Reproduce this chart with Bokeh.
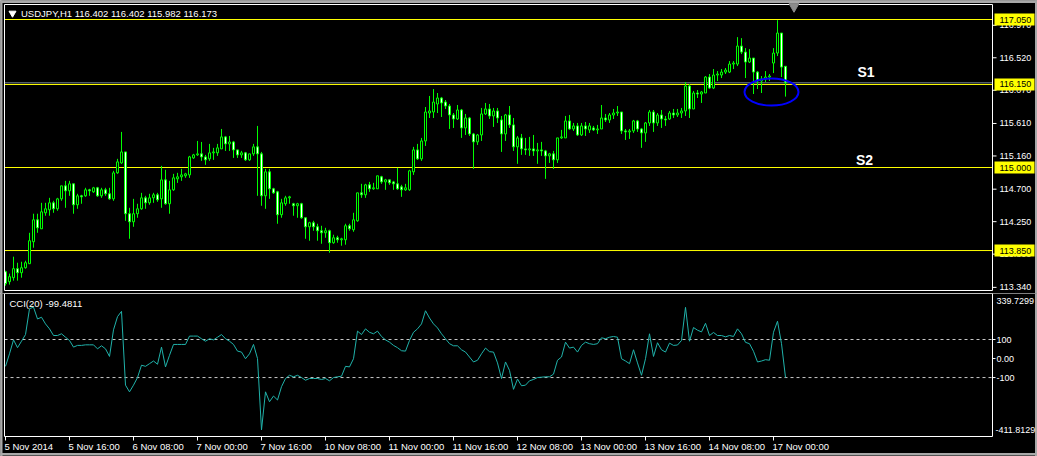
import re
from bokeh.plotting import figure
from bokeh.layouts import column
from bokeh.models import Range1d, ColumnDataSource
from bokeh.embed import file_html
from bokeh.resources import INLINE
from bokeh.core.properties import value

# ---------------- data (USDJPY H1) ----------------
open_ = [
    113.557, 113.419, 113.474, 113.599, 113.543, 113.612, 113.668, 113.972, 114.276, 114.151,
    114.373, 114.415, 114.511, 114.428, 114.566, 114.746, 114.677, 114.774, 114.484, 114.608,
    114.608, 114.691, 114.663, 114.719, 114.608, 114.691, 114.636, 114.566, 114.926, 115.064,
    115.216, 114.360, 114.248, 114.360, 114.428, 114.580, 114.511, 114.580, 114.622, 114.566,
    114.829, 114.498, 114.691, 114.843, 114.871, 114.885, 114.898, 115.133, 115.175, 115.189,
    115.147, 115.120, 115.203, 115.203, 115.258, 115.424, 115.327, 115.354, 115.244, 115.175,
    115.203, 115.106, 115.189, 115.286, 115.189, 114.608, 114.940, 114.705, 114.663, 114.346,
    114.498, 114.580, 114.498, 114.470, 114.498, 114.304, 114.179, 114.235, 114.179, 114.124,
    114.096, 114.124, 113.958, 114.027, 113.999, 113.999, 114.193, 114.138, 114.262, 114.649,
    114.622, 114.760, 114.705, 114.705, 114.871, 114.801, 114.829, 114.801, 114.774, 114.732,
    114.691, 114.691, 114.940, 115.244, 115.120, 115.368, 115.755, 115.769, 115.880, 115.963,
    115.907, 115.852, 115.728, 115.672, 115.797, 115.548, 115.686, 115.465, 115.355, 115.451,
    115.742, 115.811, 115.714, 115.783, 115.659, 115.465, 115.728, 115.590, 115.286, 115.410,
    115.258, 115.244, 115.258, 115.230, 115.244, 115.230, 115.161, 115.189, 115.106, 115.410,
    115.410, 115.645, 115.534, 115.576, 115.451, 115.576, 115.521, 115.548, 115.521, 115.534,
    115.686, 115.659, 115.728, 115.755, 115.769, 115.507, 115.493, 115.507, 115.645, 115.534,
    115.479, 115.617, 115.769, 115.617, 115.728, 115.672, 115.672, 115.755, 115.728, 115.755,
    115.783, 116.129, 115.811, 116.032, 116.018, 116.032, 116.253, 116.101, 116.281, 116.281,
    116.322, 116.322, 116.433, 116.433, 116.682, 116.599, 116.461, 116.516, 116.322, 116.198,
    116.226, 116.253, 116.447, 116.585, 116.862, 116.402]

high = [
    113.571, 113.530, 113.765, 113.681, 113.695, 113.709, 114.096, 114.360, 114.360, 114.511,
    114.511, 114.580, 114.539, 114.580, 114.746, 114.815, 114.815, 114.774, 114.636, 114.622,
    114.719, 114.705, 114.732, 114.732, 114.719, 114.719, 114.719, 114.954, 115.120, 115.493,
    115.216, 114.442, 114.566, 114.498, 114.649, 114.608, 114.636, 114.649, 114.649, 115.023,
    114.968, 114.815, 114.912, 114.926, 114.981, 114.926, 115.161, 115.189, 115.368, 115.354,
    115.175, 115.327, 115.272, 115.327, 115.534, 115.437, 115.437, 115.368, 115.244, 115.230,
    115.216, 115.189, 115.327, 115.576, 115.216, 114.981, 114.981, 114.719, 114.677, 114.566,
    114.608, 114.608, 114.511, 114.511, 114.511, 114.304, 114.248, 114.262, 114.221, 114.193,
    114.165, 114.138, 114.069, 114.055, 114.027, 114.221, 114.221, 114.373, 114.649, 114.774,
    114.774, 114.801, 114.788, 114.885, 114.885, 114.843, 114.829, 114.815, 114.995, 114.760,
    114.774, 114.968, 115.286, 115.327, 115.410, 115.838, 115.991, 116.087, 116.032, 115.977,
    115.935, 115.880, 115.755, 115.866, 115.811, 115.742, 115.700, 115.479, 115.465, 115.825,
    115.894, 115.880, 115.825, 115.825, 115.714, 115.742, 115.852, 115.686, 115.437, 115.465,
    115.410, 115.424, 115.451, 115.341, 115.355, 115.244, 115.203, 115.230, 115.410, 115.521,
    115.714, 115.728, 115.617, 115.617, 115.617, 115.631, 115.617, 115.576, 115.590, 115.866,
    115.742, 115.755, 115.811, 115.852, 115.769, 115.534, 115.534, 115.659, 115.659, 115.548,
    115.631, 115.797, 115.797, 115.755, 115.797, 115.714, 115.783, 115.811, 115.811, 115.825,
    116.184, 116.156, 116.060, 116.073, 116.060, 116.267, 116.295, 116.364, 116.336, 116.364,
    116.378, 116.474, 116.474, 116.806, 116.792, 116.654, 116.640, 116.516, 116.336, 116.267,
    116.336, 116.295, 116.654, 117.041, 116.862, 116.402]

low = [
    113.364, 113.378, 113.433, 113.433, 113.474, 113.599, 113.668, 113.889, 114.096, 114.151,
    114.332, 114.332, 114.373, 114.401, 114.539, 114.442, 114.608, 114.360, 114.428, 114.498,
    114.594, 114.608, 114.649, 114.594, 114.580, 114.608, 114.553, 114.539, 114.912, 115.051,
    114.262, 114.013, 114.179, 114.304, 114.415, 114.428, 114.484, 114.511, 114.525, 114.442,
    114.484, 114.360, 114.677, 114.787, 114.815, 114.857, 114.857, 115.120, 115.161, 115.092,
    115.037, 115.092, 115.106, 115.161, 115.258, 115.230, 115.230, 115.133, 115.133, 115.133,
    115.092, 115.092, 115.161, 114.608, 114.470, 114.428, 114.566, 114.636, 114.221, 114.304,
    114.470, 114.498, 114.332, 114.304, 114.290, 114.013, 113.986, 114.124, 113.986, 113.944,
    114.027, 113.820, 113.944, 113.958, 113.917, 113.931, 114.124, 114.110, 114.248, 114.580,
    114.580, 114.663, 114.691, 114.705, 114.774, 114.691, 114.760, 114.691, 114.691, 114.594,
    114.677, 114.677, 114.898, 115.106, 115.092, 115.299, 115.686, 115.686, 115.755, 115.700,
    115.811, 115.534, 115.548, 115.659, 115.410, 115.451, 115.437, 114.981, 115.313, 115.368,
    115.728, 115.672, 115.562, 115.617, 115.216, 115.368, 115.548, 115.230, 115.051, 115.175,
    115.175, 115.161, 115.161, 115.051, 115.161, 114.843, 115.064, 114.981, 115.064, 115.396,
    115.410, 115.521, 115.507, 115.437, 115.437, 115.437, 115.479, 115.507, 115.465, 115.534,
    115.631, 115.617, 115.672, 115.714, 115.465, 115.382, 115.396, 115.479, 115.493, 115.272,
    115.355, 115.576, 115.493, 115.576, 115.548, 115.576, 115.659, 115.686, 115.700, 115.686,
    115.714, 115.686, 115.811, 115.963, 115.894, 116.032, 116.087, 116.087, 116.198, 116.239,
    116.295, 116.308, 116.364, 116.405, 116.571, 116.239, 116.447, 116.018, 116.087, 116.032,
    116.184, 116.198, 116.308, 116.544, 116.253, 115.982]

close = [
    113.392, 113.488, 113.599, 113.543, 113.612, 113.681, 113.986, 114.276, 114.165, 114.387,
    114.428, 114.511, 114.428, 114.566, 114.746, 114.677, 114.774, 114.484, 114.608, 114.594,
    114.691, 114.677, 114.719, 114.608, 114.691, 114.636, 114.566, 114.926, 115.078, 115.216,
    114.360, 114.248, 114.360, 114.428, 114.580, 114.511, 114.580, 114.622, 114.553, 114.829,
    114.498, 114.691, 114.857, 114.871, 114.898, 114.912, 115.147, 115.175, 115.189, 115.147,
    115.106, 115.203, 115.216, 115.272, 115.424, 115.327, 115.354, 115.244, 115.175, 115.203,
    115.106, 115.189, 115.286, 115.189, 114.608, 114.940, 114.705, 114.649, 114.346, 114.511,
    114.580, 114.594, 114.470, 114.498, 114.304, 114.179, 114.235, 114.179, 114.124, 114.096,
    114.124, 113.958, 114.027, 113.999, 114.013, 114.193, 114.151, 114.276, 114.649, 114.622,
    114.760, 114.705, 114.719, 114.885, 114.801, 114.829, 114.788, 114.774, 114.705, 114.691,
    114.719, 114.954, 115.244, 115.120, 115.368, 115.769, 115.783, 115.907, 115.963, 115.894,
    115.852, 115.728, 115.672, 115.797, 115.548, 115.686, 115.465, 115.355, 115.451, 115.742,
    115.811, 115.714, 115.783, 115.686, 115.465, 115.728, 115.590, 115.286, 115.410, 115.258,
    115.244, 115.258, 115.230, 115.244, 115.230, 115.161, 115.189, 115.106, 115.410, 115.424,
    115.645, 115.534, 115.576, 115.451, 115.576, 115.534, 115.576, 115.521, 115.534, 115.686,
    115.659, 115.728, 115.755, 115.769, 115.507, 115.493, 115.507, 115.645, 115.534, 115.479,
    115.617, 115.769, 115.617, 115.728, 115.672, 115.659, 115.755, 115.728, 115.755, 115.783,
    116.129, 115.811, 116.032, 116.018, 116.046, 116.253, 116.101, 116.281, 116.295, 116.322,
    116.350, 116.433, 116.447, 116.682, 116.599, 116.461, 116.516, 116.322, 116.198, 116.226,
    116.253, 116.267, 116.585, 116.862, 116.391, 116.173]

cci = [
    -41, 25, 98, 57, 91, 126, 262, 270, 208, 217,
    182, 156, 121, 121, 130, 112, 95, 60, 69, 69,
    72, 72, 72, 51, 67, 51, 11, 151, 220, 248,
    -140, -175, -140, -100, -35, -41, -27, -13, -30, 60,
    -44, 17, 74, 74, 74, 74, 118, 118, 118, 104,
    91, 104, 98, 112, 126, 104, 91, 74, 39, 34,
    -1, 25, 74, 0, -375, -175, -227, -197, -218, -148,
    -105, -88, -96, -88, -100, -114, -105, -105, -105, -110,
    -105, -117, -100, -96, -93, -41, -44, -1, 144, 126,
    156, 138, 130, 144, 116, 98, 86, 69, 57, 41,
    39, 95, 138, 156, 182, 251, 213, 182, 161, 130,
    104, 78, 67, 67, 46, 34, 8, -18, -9, 25,
    55, 36, 34, -23, -105, -18, -62, -162, -108, -143,
    -140, -117, -110, -100, -98, -96, -96, -82, -9, 8,
    86, 55, 60, 34, 69, 86, 78, 74, 78, 109,
    104, 112, 116, 112, -1, -13, -27, 46, -23, -88,
    -1, 130, 11, 83, 46, 34, 81, 69, 71, 95,
    269, 91, 163, 149, 140, 185, 121, 137, 121, 121,
    114, 121, 116, 156, 130, 85, 78, 38, -18, -13,
    -6, -9, 138, 196, 78, -99.4811]

time_ticks = [0, 16, 32, 48, 64, 80, 96, 112, 128, 144, 160, 176, 192]
time_labels = ["5 Nov 2014", "5 Nov 16:00", "6 Nov 08:00", "7 Nov 00:00", "7 Nov 16:00",
               "10 Nov 08:00", "11 Nov 00:00", "11 Nov 16:00", "12 Nov 08:00", "13 Nov 00:00",
               "13 Nov 16:00", "14 Nov 08:00", "17 Nov 00:00"]
price_ticks = [116.970, 116.520, 116.070, 115.610, 115.160, 114.700, 114.250, 113.800, 113.340]
levels = [117.050, 116.150, 115.000, 113.850]
level_names = ["S1", "S2"]
bid = 116.173
cci_ticks = [100, 0, -100]
cci_tick_labels = ["100", "0.00", "-100"]
cci_levels = [100, -100]
cci_min, cci_max = -411.8129, 339.7299
header = "USDJPY,H1  116.402 116.402 115.982 116.173"
cci_header = "CCI(20) -99.4811"

# ---------------- geometry of the MT4 window (pixels -> scales) ----------------
W, HA, HB = 1037, 293, 163
PRICE_TOP, PX_PER_PRICE = 117.3132, 72.2      # price at page y=0, pixels per 1.0 JPY
CCI_TOP_PX, CCI_PX = 293.39, 143.0           # CCI pane spans its own min/max


def px_x(px):
    return (px - 5.0) / 4.0                   # bar i is centred at 5 + 4*i px


def px_a(py):
    return PRICE_TOP - py / PX_PER_PRICE


def px_b(py):
    return cci_max - (py - CCI_TOP_PX) * (cci_max - cci_min) / CCI_PX


FONT = "Liberation Sans"
LIME, YELLOW, EDGE = "#00FF00", "#FFFF00", "#A8A8A8"
PANE_L, PANE_R = px_x(4), px_x(992)


def txt(p, xs, ys, texts, size="9.5px", color="white", align="left", style="normal"):
    p.text(x=xs, y=ys, text=texts, text_font=value(FONT), text_font_size=value(size),
           text_color=color, text_align=align, text_baseline="middle", text_font_style=style)


def base_fig(height, yr):
    p = figure(width=W, height=height, x_range=Range1d(px_x(0), px_x(W)), y_range=yr,
               x_axis_location=None, y_axis_location=None,
               output_backend="svg", toolbar_location=None,
               min_border=0, background_fill_color="black", border_fill_color="black",
               outline_line_color=None)
    p.grid.visible = False
    return p


idx = list(range(len(close)))
bull = [i for i in idx if close[i] >= open_[i]]
bear = [i for i in idx if close[i] < open_[i]]

# ---------------- price pane ----------------
pa = base_fig(HA, Range1d(px_a(HA), px_a(0)))
# window edges
pa.quad(left=[px_x(0)], right=[px_x(W)], top=[px_a(0)], bottom=[px_a(2)], color=EDGE)
pa.quad(left=[px_x(0)], right=[px_x(1.5)], top=[px_a(0)], bottom=[px_a(HA)], color=EDGE)
pa.quad(left=[px_x(1035)], right=[px_x(W)], top=[px_a(0)], bottom=[px_a(HA)], color=EDGE)

# support lines and bid line
pa.segment(x0=[PANE_L] * len(levels), x1=[PANE_R] * len(levels), y0=levels, y1=levels,
           line_color=YELLOW, line_width=1)
pa.segment(x0=[PANE_L], x1=[PANE_R], y0=[bid], y1=[bid], line_color="#778899", line_width=1)

# candles
pa.segment(x0=idx, y0=low, x1=idx, y1=high, line_color=LIME, line_width=1)
bull_src = ColumnDataSource(dict(x=bull, top=[close[i] for i in bull], bottom=[open_[i] for i in bull]))
bear_src = ColumnDataSource(dict(x=bear, top=[open_[i] for i in bear], bottom=[close[i] for i in bear]))
pa.vbar(x="x", top="top", bottom="bottom", width=0.5, source=bull_src,
        fill_color="black", line_color=LIME, line_width=1)
pa.vbar(x="x", top="top", bottom="bottom", width=0.5, source=bear_src,
        fill_color="white", line_color=LIME, line_width=1)

# pane frame
pa.quad(left=[PANE_L], right=[PANE_R], top=[px_a(4)], bottom=[px_a(290)],
        fill_color=None, line_color="white", line_width=1)

# price scale (right)
n = len(price_ticks)
pa.segment(x0=[PANE_R] * n, x1=[px_x(996)] * n, y0=price_ticks, y1=price_ticks,
           line_color="white", line_width=1)
txt(pa, [px_x(999)] * n, price_ticks, [f"{t:.3f}" for t in price_ticks], size="9px")
m = len(levels)
pa.rect(x=[px_x(1014)] * m, y=levels, width=40, height=12, width_units="screen",
        height_units="screen", fill_color=YELLOW, line_color=None)
txt(pa, [px_x(999)] * m, levels, [f"{v:.3f}" for v in levels], size="9px", color="black")

# S1 / S2 tags, blue ellipse, header
txt(pa, [px_x(865.5), px_x(864)], [px_a(71), px_a(159.5)], level_names,
    size="14px", align="center", style="bold")
pa.ellipse(x=[px_x(771)], y=[px_a(91.5)], width=54, height=27, width_units="screen",
           height_units="screen", fill_color=None, line_color="#0000FF", line_width=2)
pa.scatter([px_x(12)], [px_a(12.7)], marker="inverted_triangle", size=7, color="white")
txt(pa, [px_x(20.5)], [px_a(12.7)], [header])
pa.scatter([px_x(793.5)], [px_a(6)], marker="inverted_triangle", size=10, color="#8C8C8C")

# ---------------- CCI pane ----------------
pb = base_fig(HB, Range1d(px_b(HA + HB), px_b(HA)))
pb.quad(left=[px_x(0)], right=[px_x(1.5)], top=[px_b(HA)], bottom=[px_b(HA + HB)], color=EDGE)
pb.quad(left=[px_x(1035)], right=[px_x(W)], top=[px_b(HA)], bottom=[px_b(HA + HB)], color=EDGE)
pb.quad(left=[px_x(0)], right=[px_x(W)], top=[px_b(453)], bottom=[px_b(454.5)], color=EDGE)

k = len(cci_levels)
pb.segment(x0=[PANE_L] * k, x1=[PANE_R] * k, y0=cci_levels, y1=cci_levels,
           line_color="#C8C8C8", line_width=1, line_dash="3 3")
pb.line(idx, cci, line_color="#20B2AA", line_width=1)
pb.quad(left=[PANE_L], right=[PANE_R], top=[px_b(293)], bottom=[px_b(436)],
        fill_color=None, line_color="white", line_width=1)

# CCI scale
c = len(cci_ticks)
pb.segment(x0=[PANE_R] * c, x1=[px_x(995)] * c, y0=cci_ticks, y1=cci_ticks,
           line_color="white", line_width=1)
txt(pb, [px_x(996)] * c, cci_ticks, cci_tick_labels, size="9px")
txt(pb, [px_x(996), px_x(995)], [px_b(300.5), px_b(429.5)],
    [f"{cci_max:.4f}", f"{cci_min:.4f}"], size="9px")
txt(pb, [px_x(9)], [px_b(302.5)], [cci_header])

# time scale
t = len(time_ticks)
pb.segment(x0=time_ticks, x1=time_ticks, y0=[px_b(436)] * t, y1=[px_b(440)] * t,
           line_color="white", line_width=1)
txt(pb, [x - 0.25 for x in time_ticks], [px_b(445.5)] * t, time_labels)

layout = column(pa, pb, spacing=0)
html = file_html(layout, INLINE, title="USDJPY,H1")
html = re.sub(r"<body[^>]*>", '<body style="margin:0;background:#000000;">', html, count=1)
open("out.html", "w").write(html)
